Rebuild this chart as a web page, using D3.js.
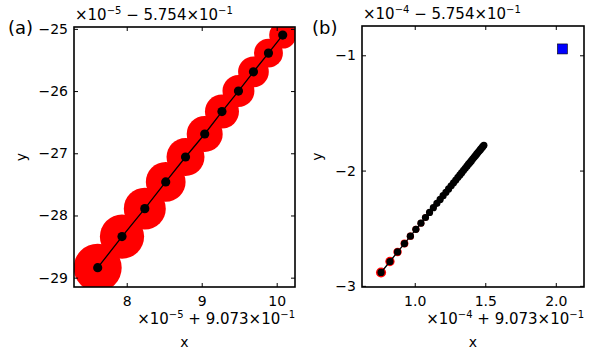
<!DOCTYPE html>
<html>
<head>
<meta charset="utf-8">
<script src="https://cdn.jsdelivr.net/npm/d3@7"></script>
<style>
  body { margin: 0; background: #fff; }
  svg text { font-family: "DejaVu Sans", sans-serif; fill: #000; }
</style>
</head>
<body>
<div id="chart"></div>
<script>
// panel (a): units of 1e-5 on both axes (offsets shown in the offset text)
const aX = [7.613, 7.937, 8.241, 8.520, 8.784, 9.040, 9.270, 9.490, 9.690, 9.890, 10.080];
const aY = [-28.84, -28.34, -27.89, -27.46, -27.06, -26.69, -26.33, -26.00, -25.69, -25.39, -25.10];
const aSpread = [0.32, 0.295, 0.28, 0.265, 0.253, 0.24, 0.227, 0.213, 0.205, 0.193, 0.18];
const aXTicks = [8, 9, 10];
const aYTicks = [-25, -26, -27, -28, -29];

// panel (b): units of 1e-4
const bX = [0.761, 0.824, 0.878, 0.927, 0.969, 1.008, 1.044, 1.076, 1.105, 1.132, 1.157, 1.180,
  1.201, 1.221, 1.240, 1.258, 1.275, 1.291, 1.306, 1.320, 1.333, 1.346, 1.358, 1.370, 1.381,
  1.392, 1.402, 1.412, 1.422, 1.431, 1.440, 1.449, 1.458, 1.466, 1.474, 1.482, 1.490];
const bY = [-2.884, -2.789, -2.706, -2.633, -2.569, -2.510, -2.456, -2.407, -2.363, -2.322, -2.284, -2.250,
  -2.218, -2.188, -2.159, -2.132, -2.106, -2.082, -2.059, -2.038, -2.018, -1.998, -1.980, -1.962, -1.945,
  -1.929, -1.914, -1.898, -1.883, -1.870, -1.856, -1.842, -1.829, -1.817, -1.805, -1.793, -1.781];
const bSpread = [0.036, 0.033, 0.030, 0.028, 0.026, 0.025, 0.024, 0.023, 0.022, 0.021, 0.020, 0.019];
const bTarget = [2.047, -0.945];
const bXTicks = [1.0, 1.5, 2.0];
const bYTicks = [-1, -2, -3];

const W = 594, H = 362;
const svg = d3.select("#chart").append("svg").attr("width", W).attr("height", H);

function offsetText(g, x, y, exp, sign, anchor) {
  const t = g.append("text").attr("x", x).attr("y", y).attr("font-size", 15)
    .attr("text-anchor", anchor);
  t.append("tspan").text("×10");
  t.append("tspan").attr("dy", -6).attr("font-size", 10).text("−" + exp);
  t.append("tspan").attr("dy", 6).text(" " + sign + " " + (sign === "+" ? "9.073" : "5.754") + "×10");
  t.append("tspan").attr("dy", -6).attr("font-size", 10).text("−1");
}

function panel(opt) {
  const { left, right, top, bottom } = opt.box;
  const x = d3.scaleLinear().domain(opt.xDomain).range([left, right]);
  const y = d3.scaleLinear().domain(opt.yDomain).range([bottom, top]);
  const g = svg.append("g");

  const clip = "clip-" + opt.name.replace(/[()]/g, "");
  g.append("clipPath").attr("id", clip).append("rect")
    .attr("x", left).attr("y", top).attr("width", right - left).attr("height", bottom - top);
  const plot = g.append("g").attr("clip-path", `url(#${clip})`);

  const pts = opt.xs.map((v, i) => ({ x: v, y: opt.ys[i], s: opt.spread[i] }));

  // red discs: radius in x data units
  plot.selectAll(".halo").data(pts.filter(d => d.s !== undefined)).enter()
    .append("circle").attr("class", "halo")
    .attr("cx", d => x(d.x)).attr("cy", d => y(d.y))
    .attr("r", d => x(opt.xDomain[0] + d.s) - x(opt.xDomain[0]))
    .attr("fill", "#ff0000");

  plot.append("path").datum(pts)
    .attr("d", d3.line().x(d => x(d.x)).y(d => y(d.y)))
    .attr("fill", "none").attr("stroke", "#000").attr("stroke-width", 1.3);

  plot.selectAll(".dot").data(pts).enter()
    .append("circle").attr("class", "dot")
    .attr("cx", d => x(d.x)).attr("cy", d => y(d.y))
    .attr("r", opt.dotR).attr("fill", "#000");

  if (opt.target) {
    plot.append("rect")
      .attr("x", x(opt.target[0]) - 5).attr("y", y(opt.target[1]) - 5)
      .attr("width", 10).attr("height", 10)
      .attr("fill", "#0000ff").attr("stroke", "#000").attr("stroke-width", 0.6);
  }

  // axes, ticks inward on all four sides
  const bAx = g.append("g").attr("transform", `translate(0,${bottom})`)
    .call(d3.axisBottom(x).tickValues(opt.xTicks).tickSize(-4).tickPadding(9)
      .tickFormat(opt.xFmt));
  const tAx = g.append("g").attr("transform", `translate(0,${top})`)
    .call(d3.axisTop(x).tickValues(opt.xTicks).tickSize(-4).tickFormat(""));
  const lAx = g.append("g").attr("transform", `translate(${left},0)`)
    .call(d3.axisLeft(y).tickValues(opt.yTicks).tickSize(-4).tickPadding(6)
      .tickFormat(opt.yFmt));
  const rAx = g.append("g").attr("transform", `translate(${right},0)`)
    .call(d3.axisRight(y).tickValues(opt.yTicks).tickSize(-4).tickFormat(""));
  [bAx, tAx, lAx, rAx].forEach(a => {
    a.select(".domain").remove();
    a.selectAll("line").attr("stroke", "#000").attr("stroke-width", 1);
    a.selectAll("text").attr("font-size", 14).attr("font-family", "DejaVu Sans, sans-serif");
  });

  g.append("rect").attr("x", left).attr("y", top)
    .attr("width", right - left).attr("height", bottom - top)
    .attr("fill", "none").attr("stroke", "#000").attr("stroke-width", 1.6);

  // offset texts
  offsetText(g, left + 1, top - 7, opt.exp, "−", "start");
  offsetText(g, right, bottom + 37, opt.exp, "+", "end");

  g.append("text").attr("x", (left + right) / 2).attr("y", bottom + 60)
    .attr("text-anchor", "middle").attr("font-size", 14).text("x");
  g.append("text").attr("transform", `translate(${opt.yLabelX},${(top + bottom) / 2}) rotate(-90)`)
    .attr("text-anchor", "middle").attr("font-size", 14).text("y");
  g.append("text").attr("x", opt.tagX).attr("y", 34).attr("font-size", 18).text(opt.name);
}

panel({
  name: "(a)", box: { left: 74, right: 295, top: 27, bottom: 287 },
  xDomain: [7.297, 10.244], yDomain: [-29.15, -24.97],
  xs: aX, ys: aY, spread: aSpread, dotR: 4.6,
  xTicks: aXTicks, yTicks: aYTicks,
  xFmt: d3.format("d"), yFmt: d3.format("d"),
  exp: 5, yLabelX: 26, tagX: 8
});

panel({
  name: "(b)", box: { left: 362, right: 584, top: 26, bottom: 287 },
  xDomain: [0.626, 2.2], yDomain: [-3.01, -0.746],
  xs: bX, ys: bY, spread: bSpread, dotR: 3.6, target: bTarget,
  xTicks: bXTicks, yTicks: bYTicks,
  xFmt: d3.format(".1f"), yFmt: d3.format("d"),
  exp: 4, yLabelX: 322, tagX: 312
});
</script>
</body>
</html>
